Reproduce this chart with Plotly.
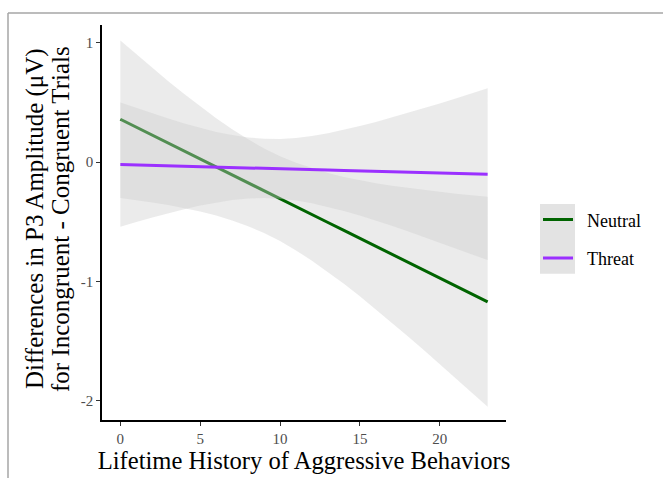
import plotly.graph_objects as go

# Data
x_vals = list(range(0, 24))
neutral_fit = [0.360, 0.293, 0.227, 0.160, 0.094, 0.027, -0.039, -0.106, -0.172, -0.239,
               -0.305, -0.372, -0.438, -0.505, -0.571, -0.638, -0.704, -0.771, -0.837,
               -0.904, -0.970, -1.037, -1.103, -1.170]
neutral_upper = [1.020, 0.904, 0.791, 0.679, 0.571, 0.467, 0.369, 0.276, 0.192, 0.116,
                 0.051, -0.005, -0.051, -0.091, -0.124, -0.153, -0.176, -0.198, -0.216,
                 -0.234, -0.249, -0.264, -0.277, -0.290]
neutral_lower = [-0.300, -0.318, -0.337, -0.359, -0.383, -0.413, -0.447, -0.488, -0.536,
                 -0.594, -0.661, -0.739, -0.825, -0.919, -1.018, -1.123, -1.232, -1.344,
                 -1.458, -1.574, -1.691, -1.810, -1.929, -2.050]
threat_fit = [-0.020, -0.023, -0.027, -0.030, -0.034, -0.037, -0.041, -0.044, -0.048,
              -0.051, -0.055, -0.058, -0.062, -0.065, -0.069, -0.072, -0.076, -0.079,
              -0.083, -0.086, -0.090, -0.093, -0.097, -0.100]
threat_upper = [0.500, 0.454, 0.409, 0.366, 0.325, 0.288, 0.254, 0.228, 0.207, 0.197,
                0.195, 0.204, 0.219, 0.243, 0.271, 0.303, 0.337, 0.375, 0.413, 0.453,
                0.493, 0.535, 0.577, 0.620]
threat_lower = [-0.540, -0.500, -0.463, -0.426, -0.393, -0.362, -0.336, -0.316, -0.303,
                -0.299, -0.305, -0.320, -0.343, -0.373, -0.409, -0.447, -0.489, -0.533,
                -0.579, -0.625, -0.673, -0.721, -0.771, -0.820]

x_ticks = [0, 5, 10, 15, 20]
y_ticks = [1, 0, -1, -2]
series_names = ["Neutral", "Threat"]
y_title_lines = ["Differences in P3 Amplitude (μV)", "for Incongruent - Congruent Trials"]
x_title = "Lifetime History of Aggressive Behaviors"

GREEN = "#006400"
PURPLE = "#9B30FF"
RIBBON = "rgba(204,204,204,0.4)"
FONT = "Liberation Serif"
PAD = "\u00a0\u00a0"

fig = go.Figure()

def ribbon(lo, hi):
    return go.Scatter(x=x_vals + x_vals[::-1], y=hi + lo[::-1], fill="toself",
                      fillcolor=RIBBON, line=dict(width=0), mode="lines",
                      hoverinfo="skip", showlegend=False)

fig.add_trace(ribbon(neutral_lower, neutral_upper))
fig.add_trace(go.Scatter(x=x_vals, y=neutral_fit, mode="lines", name=PAD + series_names[0],
                         legendgroup="n", line=dict(color=GREEN, width=3)))
fig.add_trace(ribbon(threat_lower, threat_upper))
fig.add_trace(go.Scatter(x=x_vals, y=threat_fit, mode="lines", name=PAD + series_names[1],
                         legendgroup="t", line=dict(color=PURPLE, width=3)))

L, R, T, B = 102, 157, 25, 56
W, H = 663, 478
pw, ph = W - L - R, H - T - B

def px(xp):
    return (xp - L) / pw

def py(yp):
    return (H - B - yp) / ph

shapes = [
    dict(type="line", xref="paper", yref="paper", x0=px(8), x1=px(W + 5), y0=py(13), y1=py(13),
         line=dict(color="#A6A6A6", width=1.5)),
    dict(type="line", xref="paper", yref="paper", x0=px(8), x1=px(8), y0=py(13), y1=py(H + 5),
         line=dict(color="#A6A6A6", width=1.5)),
    dict(type="rect", xref="paper", yref="paper", x0=px(540), x1=px(575), y0=py(275), y1=py(205),
         fillcolor="#E3E3E3", line=dict(width=0), layer="below"),
]

annotations = [
    dict(text=y_title_lines[0], xref="paper", yref="paper", x=px(35), y=py(220),
         xanchor="center", yanchor="middle", textangle=-90, showarrow=False,
         font=dict(family=FONT, size=25, color="black")),
    dict(text=y_title_lines[1], xref="paper", yref="paper", x=px(60), y=py(220),
         xanchor="center", yanchor="middle", textangle=-90, showarrow=False,
         font=dict(family=FONT, size=25, color="black")),
]

fig.update_layout(
    width=W, height=H,
    margin=dict(l=L, r=R, t=T, b=B),
    plot_bgcolor="white", paper_bgcolor="white",
    font=dict(family=FONT, color="black"),
    shapes=shapes,
    annotations=annotations,
    showlegend=True,
    legend=dict(x=px(538), y=py(240), xanchor="left", yanchor="middle",
                bgcolor="rgba(0,0,0,0)", font=dict(family=FONT, size=18, color="black"),
                traceorder="grouped", tracegroupgap=12, itemwidth=30),
    xaxis=dict(range=[-1.15, 24.15], tickvals=x_ticks, ticktext=[str(v) for v in x_ticks],
               showgrid=False, zeroline=False, showline=True, linecolor="black", linewidth=1.5,
               ticks="outside", ticklen=4, tickcolor="#333333", tickwidth=1.2,
               tickfont=dict(family=FONT, size=15, color="#4D4D4D"),
               title=dict(text=x_title,
                          font=dict(family=FONT, size=24.6, color="black"), standoff=2)),
    yaxis=dict(range=[-2.16, 1.15], tickvals=y_ticks, ticktext=[str(v) for v in y_ticks],
               showgrid=False, zeroline=False, showline=True, linecolor="black", linewidth=1.5,
               ticks="outside", ticklen=4, tickcolor="#333333", tickwidth=1.2,
               tickfont=dict(family=FONT, size=15, color="#4D4D4D")),
)

fig.write_html("out.html")
